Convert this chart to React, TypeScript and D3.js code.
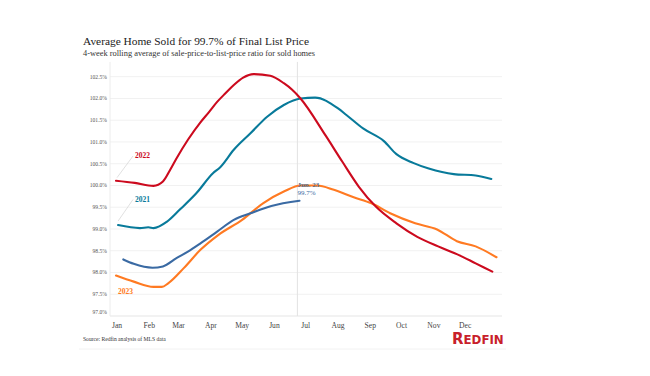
import React from "react";
import * as d3 from "d3";

// Day-of-year (0 = Jan 1) and sale-to-list ratio (%)
const days2022 = [0, 18, 36, 45, 52, 58, 69, 81, 89, 97, 105, 113, 122, 132, 148, 161, 169, 177, 201, 217, 233, 249, 269, 289, 309, 329, 345, 361];
const vals2022 = [100.11, 100.06, 99.99, 100.09, 100.36, 100.62, 101.05, 101.45, 101.68, 101.92, 102.12, 102.31, 102.48, 102.56, 102.52, 102.35, 102.2, 102.0, 101.15, 100.55, 99.97, 99.52, 99.13, 98.82, 98.6, 98.4, 98.21, 98.02];

const days2021 = [2, 23, 31, 36, 49, 61, 77, 93, 100, 113, 129, 145, 161, 177, 191, 213, 221, 237, 257, 269, 285, 300, 324, 345, 360];
const vals2021 = [99.09, 99.02, 99.04, 99.02, 99.17, 99.44, 99.82, 100.28, 100.42, 100.82, 101.2, 101.58, 101.85, 102.0, 102.02, 101.77, 101.62, 101.31, 101.02, 100.72, 100.52, 100.39, 100.26, 100.23, 100.15];

const days2023 = [0, 17, 36, 44, 50, 65, 81, 98, 121, 141, 161, 177, 193, 209, 228, 245, 263, 287, 308, 327, 345, 365];
const vals2023 = [97.93, 97.79, 97.67, 97.67, 97.75, 98.1, 98.52, 98.86, 99.21, 99.59, 99.86, 100.0, 100.0, 99.9, 99.73, 99.59, 99.36, 99.13, 98.99, 98.72, 98.6, 98.35];

const days2024 = [7, 17, 35, 45, 58, 69, 81, 97, 113, 129, 149, 176];
const vals2024 = [98.3, 98.2, 98.11, 98.14, 98.33, 98.48, 98.67, 98.94, 99.21, 99.36, 99.53, 99.65];

const monthLabels = ["Jan", "Feb", "Mar", "Apr", "May", "Jun", "Jul", "Aug", "Sep", "Oct", "Nov", "Dec"];
const monthStarts = [0, 31, 59, 90, 120, 151, 181, 212, 243, 273, 304, 334];
const yTicks = [97.0, 97.5, 98.0, 98.5, 99.0, 99.5, 100.0, 100.5, 101.0, 101.5, 102.0, 102.5];

const markerDay = 174; // Jun. 23
const markerLabel = "Jun. 23";
const markerValue = "99.7%";

const title = "Average Home Sold for 99.7% of Final List Price";
const subtitle = "4-week rolling average of sale-price-to-list-price ratio for sold homes";
const source = "Source: Redfin analysis of MLS data";

const C2022 = "#cc0a1e";
const C2021 = "#087a9a";
const C2023 = "#ff7a22";
const C2024 = "#3a6aa3";
const SERIF = "'Liberation Serif', 'Times New Roman', serif";

export default function App() {
  const x = d3.scaleLinear().domain([0, 365]).range([116, 496.5]);
  const y = d3.scaleLinear().domain([97, 102.5]).range([316, 76.7]);
  const plotLeft = 110;
  const plotRight = 502;
  const plotTop = y(102.84);

  const line = d3
    .line<[number, number]>()
    .x((d) => x(d[0]))
    .y((d) => y(d[1]))
    .curve(d3.curveMonotoneX);

  const zip = (a: number[], b: number[]) => a.map((d, i) => [d, b[i]] as [number, number]);

  const series = [
    { d: zip(days2021, vals2021), c: C2021 },
    { d: zip(days2023, vals2023), c: C2023 },
    { d: zip(days2024, vals2024), c: C2024 },
    { d: zip(days2022, vals2022), c: C2022 },
  ];

  return (
    <svg
      width={650}
      height={376}
      style={{ position: "absolute", left: 0, top: 0, background: "#fff" }}
      fontFamily={SERIF}
    >
      <rect width={650} height={376} fill="#fff" />
      <text x={83} y={45} fontSize={11.4} fill="#222">
        {title}
      </text>
      <text x={83} y={55.7} fontSize={8.4} fill="#333">
        {subtitle}
      </text>

      {/* grid */}
      {yTicks.map((t) => (
        <line key={t} x1={plotLeft} x2={plotRight} y1={y(t)} y2={y(t)} stroke="#f1f1f1" strokeWidth={1} />
      ))}
      <line x1={plotLeft} x2={plotLeft} y1={plotTop} y2={y(97)} stroke="#ececec" />
      <line x1={plotLeft} x2={plotRight} y1={y(97)} y2={y(97)} stroke="#ececec" />
      <line x1={x(markerDay)} x2={x(markerDay)} y1={plotTop} y2={y(97)} stroke="#e2e2e2" />

      {yTicks.map((t) => (
        <text
          key={"l" + t}
          x={107}
          y={t === 97 ? y(t) - 2 : y(t) + 2}
          fontSize={5.6}
          textAnchor="end"
          fill="#555"
        >
          {t.toFixed(1) + "%"}
        </text>
      ))}

      {monthLabels.map((m, i) => (
        <text key={m} x={x(monthStarts[i]) + 1} y={327.5} fontSize={7.6} textAnchor="middle" fill="#444">
          {m}
        </text>
      ))}

      {/* leader lines */}
      <line x1={x(days2022[0]) + 1} y1={y(vals2022[0]) - 3} x2={133} y2={156} stroke="#d8d8d8" strokeWidth={0.8} />
      <line x1={x(days2021[0]) + 0} y1={y(vals2021[0]) - 4} x2={133} y2={199.5} stroke="#d8d8d8" strokeWidth={0.8} />

      {series.map((s, i) => (
        <path key={i} d={line(s.d) || ""} fill="none" stroke={s.c} strokeWidth={2.1} strokeLinejoin="round" strokeLinecap="round" />
      ))}

      <text x={135} y={158} fontSize={7.5} fontWeight="bold" fill={C2022}>2022</text>
      <text x={135} y={202} fontSize={7.5} fontWeight="bold" fill={C2021}>2021</text>
      <text x={118} y={294} fontSize={7.5} fontWeight="bold" fill={C2023}>2023</text>

      <text x={x(markerDay)} y={187} fontSize={7} fill="#4f6a8a" fontWeight="bold">{markerLabel}</text>
      <text x={x(markerDay)} y={195} fontSize={7} fill={C2024}>{markerValue}</text>

      <text x={83} y={341} fontSize={5.6} fill="#333">{source}</text>

      <text x={452} y={344} fontFamily="'DejaVu Sans', 'Liberation Sans', sans-serif" fontWeight="bold" fill="#c8202a">
        <tspan fontSize={15}>R</tspan>
        <tspan fontSize={11.8}>EDFIN</tspan>
      </text>

      <line x1={79} x2={506} y1={349} y2={349} stroke="#f2f2f2" />
    </svg>
  );
}
